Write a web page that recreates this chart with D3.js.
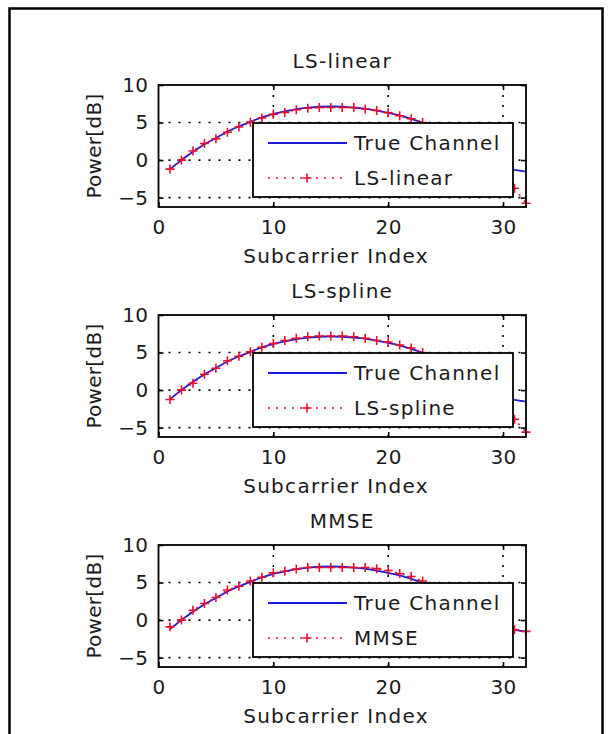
<!DOCTYPE html>
<html>
<head>
<meta charset="utf-8">
<script src="https://cdn.jsdelivr.net/npm/d3@7/dist/d3.min.js"></script>
<style>
  body { margin: 0; background: #fff; }
  svg text { font-family: "DejaVu Sans", "Liberation Sans", sans-serif; fill: #1a1a1a; }
</style>
</head>
<body>
<div id="chart"></div>
<script>
// data
let subcarriers = [1,2,3,4,5,6,7,8,9,10,11,12,13,14,15,16,17,18,19,20,21,22,23,24,25,26,27,28,29,30,31,32];
let trueChannel = [-1.2,0.0,1.1,2.1,2.95,3.8,4.5,5.1,5.7,6.15,6.5,6.8,7.0,7.1,7.15,7.1,7.0,6.85,6.6,6.3,5.95,5.5,5.0,4.35,3.6,2.8,1.9,1.0,0.1,-0.7,-1.3,-1.55];
let lsLinear = [-1.2,0.0,1.2,2.2,2.85,3.7,4.4,5.05,5.6,6.1,6.35,6.7,6.9,7.0,7.0,7.0,7.0,6.8,6.6,6.3,5.9,5.5,5.0,4.3,3.5,2.7,1.8,0.9,0.0,-1.8,-3.75,-5.75];
let lsSpline = [-1.25,0.0,0.9,2.1,2.9,3.9,4.5,5.1,5.7,6.2,6.6,6.9,7.1,7.2,7.2,7.2,7.1,6.9,6.6,6.4,6.0,5.6,5.0,4.3,3.5,2.7,1.8,0.9,0.0,-1.6,-3.9,-5.6];
let mmse = [-0.9,0.0,1.3,2.2,3.0,4.0,4.5,5.2,5.7,6.3,6.5,6.8,7.0,7.0,7.0,7.0,7.0,7.0,6.85,6.6,6.2,5.8,5.2,4.5,3.6,2.8,1.9,1.0,0.1,-0.7,-1.3,-1.5];
let panelTitles = ["LS-linear", "LS-spline", "MMSE"];
let xTicks = [0, 10, 20, 30];
let yTicks = [-5, 0, 5, 10];
let gridX = [10, 20, 30];
let gridY = [-5, 0, 5];

/** CONSTANTS */
let width = 608,
  height = 734,
  plotLeft = 158.5,
  plotRight = 526,
  plotHeight = 122,
  panelStep = 230,
  firstTop = 85,
  fontSize = 20,
  spacing = "1.3px",
  blue = "#1a1ad8",
  red = "#e8102e";

let svg = d3.select("#chart")
  .append("svg")
  .attr("width", width)
  .attr("height", height);

// outer figure frame
svg.append("rect")
  .attr("x", 9.5).attr("y", 8.5)
  .attr("width", 593).attr("height", 740)
  .attr("fill", "none")
  .attr("stroke", "#000")
  .attr("stroke-width", 2.5);

let panels = [
  { title: panelTitles[0], est: lsLinear },
  { title: panelTitles[1], est: lsSpline },
  { title: panelTitles[2], est: mmse }
];

panels.forEach((p, i) => drawPanel(p, firstTop + i * panelStep));

function drawPanel(p, top) {
  let bottom = top + plotHeight;

  /** SCALES */
  let xScale = d3.scaleLinear().domain([0, 32]).range([plotLeft, plotRight]);
  let yScale = d3.scaleLinear().domain([-6.25, 10]).range([bottom, top]);

  let g = svg.append("g");

  // dotted grid
  g.selectAll("line.gx").data(gridX).join("line")
    .attr("class", "gx")
    .attr("x1", d => xScale(d)).attr("x2", d => xScale(d))
    .attr("y1", top).attr("y2", bottom)
    .attr("stroke", "#000").attr("stroke-width", 1.6)
    .attr("stroke-dasharray", "2,8");
  g.selectAll("line.gy").data(gridY).join("line")
    .attr("class", "gy")
    .attr("x1", plotLeft).attr("x2", plotRight)
    .attr("y1", d => yScale(d)).attr("y2", d => yScale(d))
    .attr("stroke", "#000").attr("stroke-width", 1.6)
    .attr("stroke-dasharray", "2,8");

  // curves
  let line = d3.line().x((d, j) => xScale(subcarriers[j])).y(d => yScale(d));
  g.append("path").datum(trueChannel)
    .attr("d", line)
    .attr("fill", "none").attr("stroke", blue).attr("stroke-width", 1.8);
  g.append("path").datum(p.est)
    .attr("d", line)
    .attr("fill", "none").attr("stroke", red).attr("stroke-width", 1.6)
    .attr("stroke-dasharray", "2,6");
  g.selectAll("path.plus").data(p.est).join("path")
    .attr("class", "plus")
    .attr("d", (d, j) => {
      let cx = xScale(subcarriers[j]), cy = yScale(d);
      return `M${cx - 4.5},${cy}H${cx + 4.5}M${cx},${cy - 4.5}V${cy + 4.5}`;
    })
    .attr("stroke", red).attr("stroke-width", 1.6);

  // axes (ticks pointing inward)
  let xAxis = d3.axisBottom(xScale).tickValues(xTicks).tickSizeInner(-5).tickSizeOuter(0).tickPadding(13);
  let xTop = d3.axisTop(xScale).tickValues(gridX).tickSizeInner(-5).tickSizeOuter(0).tickFormat("");
  let yAxis = d3.axisLeft(yScale).tickValues(yTicks).tickSizeInner(-5).tickSizeOuter(0).tickPadding(10);
  let yRight = d3.axisRight(yScale).tickValues(yTicks).tickSizeInner(-5).tickSizeOuter(0).tickFormat("");

  g.append("g").attr("transform", `translate(0,${bottom})`).call(xAxis);
  g.append("g").attr("transform", `translate(0,${top})`).call(xTop);
  g.append("g").attr("transform", `translate(${plotLeft},0)`).call(yAxis);
  g.append("g").attr("transform", `translate(${plotRight},0)`).call(yRight);
  g.selectAll(".domain").remove();
  g.selectAll(".tick line").attr("stroke", "#000").attr("stroke-width", 1.6);
  g.selectAll(".tick text").attr("font-size", fontSize).attr("font-family", null)
    .attr("fill", "#1a1a1a").attr("letter-spacing", "0.4px");

  // box
  g.append("rect")
    .attr("x", plotLeft).attr("y", top)
    .attr("width", plotRight - plotLeft).attr("height", plotHeight)
    .attr("fill", "none").attr("stroke", "#000").attr("stroke-width", 1.8);

  // title and labels
  g.append("text")
    .attr("x", (plotLeft + plotRight) / 2).attr("y", top - 17)
    .attr("text-anchor", "middle").attr("font-size", fontSize)
    .attr("letter-spacing", spacing)
    .text(p.title);
  g.append("text")
    .attr("x", 336).attr("y", bottom + 56)
    .attr("text-anchor", "middle").attr("font-size", fontSize)
    .attr("letter-spacing", spacing)
    .text("Subcarrier Index");
  g.append("text")
    .attr("transform", `translate(101,${(top + bottom) / 2}) rotate(-90)`)
    .attr("text-anchor", "middle").attr("font-size", fontSize)
    .attr("letter-spacing", "0.3px")
    .text("Power[dB]");

  // legend
  let lg = g.append("g").attr("transform", `translate(253,${top + 38})`);
  lg.append("rect")
    .attr("width", 260).attr("height", 74)
    .attr("fill", "#fff").attr("stroke", "#000").attr("stroke-width", 1.8);
  lg.append("line")
    .attr("x1", 15).attr("x2", 94).attr("y1", 20).attr("y2", 20)
    .attr("stroke", blue).attr("stroke-width", 1.8);
  lg.append("line")
    .attr("x1", 15).attr("x2", 94).attr("y1", 55).attr("y2", 55)
    .attr("stroke", red).attr("stroke-width", 1.6).attr("stroke-dasharray", "2,6");
  lg.append("path")
    .attr("d", "M49.5,55H58.5M54,50.5V59.5")
    .attr("stroke", red).attr("stroke-width", 1.6);
  lg.append("text").attr("x", 101).attr("y", 20).attr("dy", "0.36em")
    .attr("font-size", fontSize).attr("letter-spacing", spacing).text("True Channel");
  lg.append("text").attr("x", 101).attr("y", 55).attr("dy", "0.36em")
    .attr("font-size", fontSize).attr("letter-spacing", spacing).text(p.title);
}
</script>
</body>
</html>
